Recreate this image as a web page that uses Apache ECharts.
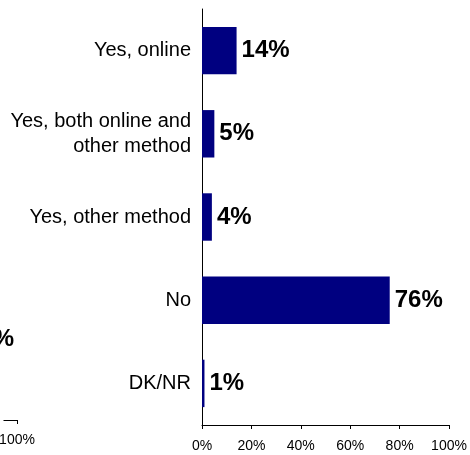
<!DOCTYPE html>
<html>
<head>
<meta charset="utf-8">
<script src="https://cdn.jsdelivr.net/npm/echarts@6/dist/echarts.min.js"></script>
<style>
html,body{margin:0;padding:0;background:#fff;}
#c{width:470px;height:455px;}
</style>
</head>
<body>
<div id="c"></div>
<script>
const categories = ["Yes, online", "Yes, both online and\nother method", "Yes, other method", "No", "DK/NR"];
const values = [14, 5, 4, 76, 1];
const tickLabels = ["0%", "20%", "40%", "60%", "80%", "100%"];
const leftFragmentLabel = "34%";
const leftFragmentTicks = [100];

const chart = echarts.init(document.getElementById('c'), null, {renderer: 'canvas'});
const font = "'Liberation Sans', Arial, sans-serif";
chart.setOption({
  animation: false,
  grid: [
    {left: 202, right: 21, top: 9, bottom: 30},
    {left: 0, width: 17, top: 9, bottom: 35}
  ],
  xAxis: [
    {
      gridIndex: 0, type: 'value', min: 0, max: 100, interval: 20,
      axisLine: {show: true, lineStyle: {color: '#000', width: 1}},
      axisTick: {show: true, length: 4, lineStyle: {color: '#000'}},
      splitLine: {show: false},
      axisLabel: {color: '#000', fontFamily: font, fontSize: 14, margin: 14,
        formatter: (v) => tickLabels[Math.round(v / 20)]}
    },
    {
      gridIndex: 1, type: 'value', min: 93.1, max: 100,
      axisLine: {show: true, lineStyle: {color: '#000', width: 1}},
      axisTick: {show: true, length: 4, lineStyle: {color: '#000'}, customValues: leftFragmentTicks},
      splitLine: {show: false},
      axisLabel: {color: '#000', fontFamily: font, fontSize: 14, margin: 13,
        customValues: leftFragmentTicks,
        formatter: (v) => tickLabels[Math.round(v / 20)]}
    }
  ],
  yAxis: [
    {
      gridIndex: 0, type: 'category', data: categories, inverse: true,
      axisLine: {show: true, lineStyle: {color: '#000', width: 1}},
      axisTick: {show: false},
      axisLabel: {color: '#000', fontFamily: font, fontSize: 20, lineHeight: 25, margin: 11, align: 'right'}
    },
    {
      gridIndex: 1, type: 'category', data: categories, inverse: true, show: false
    }
  ],
  series: [{
    type: 'bar', xAxisIndex: 0, yAxisIndex: 0,
    data: values,
    barCategoryGap: '43%',
    itemStyle: {color: '#000080'},
    label: {show: true, position: 'right', distance: 5, color: '#000',
      fontFamily: font, fontSize: 24, fontWeight: 'bold',
      formatter: (p) => p.value + '%'}
  }],
  graphic: [{
    type: 'text', right: 456, top: 327,
    style: {text: leftFragmentLabel, fill: '#000', font: "bold 24px 'Liberation Sans', Arial, sans-serif"}
  }]
});
</script>
</body>
</html>
